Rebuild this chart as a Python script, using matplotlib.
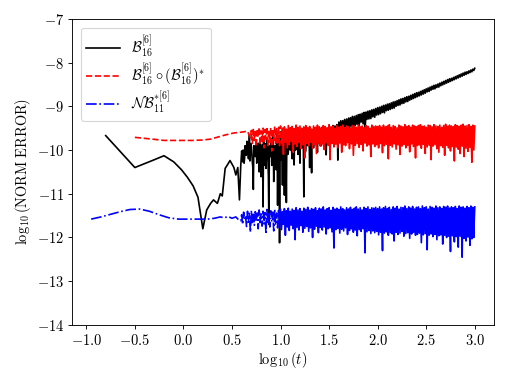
import numpy as np
import matplotlib
matplotlib.use("Agg")
import matplotlib.pyplot as plt

plt.rcParams["mathtext.fontset"] = "cm"
plt.rcParams["font.family"] = "serif"
plt.rcParams["font.serif"] = ["cmr10", "DejaVu Serif"]
plt.rcParams["axes.formatter.use_mathtext"] = True
plt.rcParams["font.size"] = 13

# ---- B_16^[6] (black) ----
black_early_x = [-0.80, -0.50, -0.32, -0.20, -0.10, -0.02, 0.04, 0.10, 0.15, 0.20,
                 0.24, 0.28, 0.31, 0.35, 0.38, 0.40, 0.43, 0.45, 0.48, 0.50,
                 0.52, 0.54, 0.56, 0.577, 0.59]
black_early_y = [-9.67, -10.40, -10.24, -10.13, -10.27, -10.45, -10.62, -10.82, -11.08, -11.80,
                 -11.37, -11.22, -11.14, -11.22, -11.00, -11.05, -10.42, -10.35, -10.24, -10.32,
                 -10.40, -10.57, -10.40, -11.14, -10.38]
# noisy part, log10(t) = 0.60 ... 1.58
black_mid = [-10.02, -10.27, -10.05, -10.18, -9.95, -10.10, -9.85, -10.20, -9.66, -10.07,
             -9.92, -10.28, -10.90, -9.95, -10.15, -9.80, -10.10, -9.85, -10.50, -9.95,
             -10.61, -9.88, -11.30, -10.07, -9.85, -10.42, -9.75, -10.20, -11.70, -10.00,
             -9.73, -10.35, -9.62, -10.72, -9.95, -10.23, -9.65, -11.26, -9.85, -12.12,
             -9.58, -10.23, -10.80, -9.69, -11.03, -9.80, -11.20, -9.92, -10.05, -9.70,
             -10.00, -9.54, -10.20, -9.62, -10.34, -9.65, -9.98, -9.55, -10.10, -9.60,
             -10.30, -9.58, -9.95, -9.62, -11.07, -9.60, -10.00, -9.55, -9.90, -9.60,
             -10.40, -9.57, -10.52, -9.62, -9.95, -9.52, -9.88, -9.58, -10.05, -9.50,
             -9.85, -9.55, -9.90, -9.48, -9.80, -9.52, -9.78, -10.11, -9.50, -9.75,
             -9.45, -9.72, -9.48, -9.70, -9.44, -9.68, -9.45, -9.66, -9.42]
# extra samples in between, log10(t) = 0.605 ... 1.585
black_mid2 = [-10.15, -10.00, -10.30, -9.90, -10.12, -9.80, -10.05, -9.95, -10.25, -9.85,
              -10.10, -10.40, -9.90, -10.05, -9.88, -10.30, -9.92, -10.15, -9.82, -10.20,
              -9.95, -10.10, -9.80, -10.35, -9.92, -10.05, -9.78, -10.60, -9.90, -10.15,
              -9.85, -10.05, -9.75, -10.20, -9.90, -10.45, -9.80, -10.00, -9.72, -10.30,
              -9.85, -10.00, -9.75, -10.15, -9.82, -9.95, -9.70, -10.10, -9.78, -9.92,
              -9.68, -10.05, -9.75, -9.88, -9.70, -10.00, -9.65, -9.90, -9.72, -9.85,
              -9.66, -9.95, -9.70, -9.85, -9.64, -10.05, -9.72, -9.86, -9.66, -9.80,
              -9.70, -9.92, -9.64, -9.82, -9.68, -9.78, -9.62, -9.85, -9.66, -9.76,
              -9.60, -9.80, -9.64, -9.74, -9.60, -9.72, -9.62, -9.70, -9.58, -9.68,
              -9.60, -9.66, -9.56, -9.64, -9.58, -9.62, -9.55, -9.60, -9.52]
# narrow growing band, upper samples at 1.60 ... 3.00, lower samples at 1.59 ... 2.99
black_tail_hi = [-9.36, -9.33, -9.33, -9.30, -9.29, -9.27, -9.26, -9.23, -9.23, -9.21,
                 -9.19, -9.18, -9.16, -9.14, -9.13, -9.11, -9.10, -9.08, -9.07, -9.05,
                 -9.03, -9.02, -9.00, -8.98, -8.97, -8.95, -8.94, -8.92, -8.90, -8.89,
                 -8.87, -8.85, -8.83, -8.82, -8.80, -8.78, -8.77, -8.75, -8.73, -8.71,
                 -8.69, -8.68, -8.66, -8.64, -8.62, -8.60, -8.58, -8.56, -8.54, -8.52,
                 -8.51, -8.49, -8.47, -8.45, -8.43, -8.41, -8.39, -8.37, -8.36, -8.34,
                 -8.32, -8.30, -8.28, -8.26, -8.24, -8.22, -8.21, -8.19, -8.17, -8.15,
                 -8.13]
black_tail_lo = [-10.23, -9.58, -9.66, -9.53, -9.55, -9.50, -9.58, -9.45, -9.46, -9.44,
                 -9.41, -9.45, -9.36, -9.40, -9.58, -9.30, -9.29, -9.28, -9.24, -9.25,
                 -9.20, -9.19, -9.17, -9.14, -9.15, -9.10, -9.09, -9.07, -9.05, -9.04,
                 -9.00, -8.98, -8.97, -8.94, -8.93, -8.90, -8.89, -8.86, -8.84, -8.82,
                 -8.80, -8.78, -8.76, -8.74, -8.72, -8.70, -8.67, -8.66, -8.63, -8.61,
                 -8.60, -8.57, -8.56, -8.53, -8.51, -8.49, -8.47, -8.45, -8.43, -8.41,
                 -8.39, -8.37, -8.35, -8.33, -8.31, -8.29, -8.27, -8.25, -8.23, -8.21,
                 -8.18]

# ---- B_16^[6] o (B_16^[6])^* (red) ----
red_early_x = [-0.50, -0.32, -0.20, -0.10, 0.00, 0.10, 0.20, 0.28, 0.36, 0.44,
               0.52, 0.60, 0.66]
red_early_y = [-9.71, -9.75, -9.78, -9.78, -9.78, -9.78, -9.77, -9.75, -9.70, -9.65,
               -9.61, -9.59, -9.57]
red_hi = [-9.55, -9.50, -9.58, -9.52, -9.48, -9.56, -9.50, -9.53, -9.47, -9.55,
          -9.49, -9.52, -9.46, -9.51, -9.48,
          -9.45, -9.50, -9.47, -9.52, -9.44, -9.49, -9.46, -9.51, -9.43, -9.48,
          -9.45, -9.50, -9.47, -9.44, -9.49, -9.46, -9.52, -9.45, -9.48, -9.43,
          -9.47, -9.50, -9.44, -9.46, -9.49, -9.42, -9.47, -9.45, -9.50, -9.44,
          -9.48, -9.46, -9.43, -9.49, -9.45, -9.47, -9.51, -9.44, -9.46, -9.48,
          -9.43, -9.47, -9.45, -9.49, -9.44, -9.46, -9.50, -9.43, -9.47, -9.45,
          -9.46, -9.44, -9.48, -9.43, -9.47, -9.45, -9.42, -9.48, -9.44, -9.46,
          -9.49, -9.43, -9.45, -9.47, -9.42, -9.46, -9.44, -9.48, -9.43, -9.45,
          -9.47, -9.44, -9.42, -9.46, -9.45, -9.48, -9.43, -9.44, -9.47, -9.42,
          -9.45, -9.46, -9.43, -9.48, -9.44, -9.41, -9.46, -9.43, -9.45, -9.47,
          -9.42, -9.44, -9.46, -9.43, -9.41, -9.45, -9.44, -9.42, -9.46, -9.43,
          -9.45]
red_mid = [-9.62, -9.68, -9.60, -9.72, -9.58, -9.66, -9.63, -9.70, -9.61, -9.67,
           -9.59, -9.74, -9.64, -9.69, -9.62,
           -9.66, -9.60, -9.71, -9.63, -9.68, -9.58, -9.65, -9.73, -9.61, -9.67,
           -9.62, -9.70, -9.59, -9.66, -9.64, -9.72, -9.60, -9.68, -9.63, -9.75,
           -9.61, -9.66, -9.58, -9.69, -9.64, -9.62, -9.71, -9.60, -9.67, -9.65,
           -9.73, -9.59, -9.66, -9.62, -9.70, -9.61, -9.68, -9.64, -9.76, -9.60,
           -9.65, -9.63, -9.71, -9.59, -9.67, -9.62, -9.69, -9.64, -9.72, -9.61,
           -9.66, -9.63, -9.70, -9.60, -9.68, -9.65, -9.74, -9.61, -9.67, -9.63,
           -9.71, -9.59, -9.66, -9.64, -9.72, -9.62, -9.69, -9.60, -9.67, -9.65,
           -9.75, -9.61, -9.68, -9.63, -9.70, -9.62, -9.66, -9.64, -9.73, -9.60,
           -9.68, -9.65, -9.71, -9.62, -9.67, -9.63, -9.76, -9.61, -9.69, -9.64,
           -9.72, -9.63, -9.67, -9.65, -9.74, -9.62, -9.70, -9.64, -9.68, -9.66,
           -9.71]
red_lo = [-9.72, -9.85, -9.78, -9.92, -9.70, -9.88, -9.80, -9.95, -9.75, -9.90,
          -9.82, -10.02, -9.78, -9.88, -9.84,
          -9.90, -9.85, -10.10, -9.82, -9.95, -9.88, -9.80, -10.05, -9.86, -9.92,
          -9.83, -9.97, -9.88, -10.18, -9.85, -9.90, -9.82, -9.96, -9.87, -10.08,
          -9.84, -9.91, -9.86, -9.99, -9.83, -9.89, -10.22, -9.85, -9.93, -9.87,
          -9.95, -9.84, -10.05, -9.88, -9.90, -9.83, -9.97, -9.86, -10.12, -9.89,
          -9.85, -9.94, -9.87, -10.02, -9.84, -9.91, -9.88, -10.15, -9.86, -9.92,
          -9.88, -9.95, -9.85, -10.06, -9.90, -9.87, -10.20, -9.89, -9.93, -9.86,
          -9.98, -9.88, -10.10, -9.91, -9.87, -9.95, -9.89, -10.04, -9.86, -9.92,
          -10.18, -9.90, -9.88, -9.96, -9.87, -10.08, -9.93, -9.89, -10.22, -9.91,
          -9.88, -9.97, -10.05, -9.90, -9.94, -10.12, -9.89, -9.95, -10.02, -9.92,
          -10.25, -9.93, -9.98, -10.08, -9.91, -10.15, -9.96, -10.03, -9.94, -10.28,
          -10.00]

# ---- NB_11^{*[6]} (blue) ----
blue_early_x = [-0.95, -0.85, -0.75, -0.65, -0.55, -0.45, -0.35, -0.25, -0.15, -0.05,
                0.05, 0.15, 0.25, 0.32, 0.38, 0.42, 0.46, 0.50, 0.54, 0.57]
blue_early_y = [-11.58, -11.53, -11.47, -11.41, -11.36, -11.35, -11.40, -11.48, -11.55, -11.58,
                -11.58, -11.58, -11.58, -11.56, -11.53, -11.55, -11.52, -11.56, -11.53, -11.60]
blue_hi = [-11.48, -11.42, -11.50, -11.40, -11.45, -11.38, -11.47, -11.41, -11.44, -11.37,
           -11.46, -11.40, -11.43, -11.36, -11.45, -11.39, -11.42, -11.35, -11.44, -11.38,
           -11.36, -11.41, -11.34, -11.39, -11.33, -11.40, -11.35, -11.38, -11.32, -11.37,
           -11.34, -11.40, -11.33, -11.36, -11.31, -11.38, -11.34, -11.36, -11.32, -11.39,
           -11.33, -11.35, -11.30, -11.37, -11.34, -11.32, -11.38, -11.31, -11.35, -11.33,
           -11.36, -11.30, -11.34, -11.37, -11.32, -11.35, -11.31, -11.36, -11.33, -11.30,
           -11.35, -11.32, -11.37, -11.31, -11.34, -11.30, -11.36, -11.32, -11.33, -11.31,
           -11.34, -11.30, -11.35, -11.32, -11.29, -11.34, -11.31, -11.36, -11.30, -11.33,
           -11.29, -11.35, -11.31, -11.32, -11.28, -11.34, -11.30, -11.33, -11.29, -11.35,
           -11.31, -11.30, -11.34, -11.28, -11.32, -11.30, -11.35, -11.29, -11.31, -11.33,
           -11.28, -11.32, -11.30, -11.34, -11.29, -11.31, -11.28, -11.33, -11.30, -11.32,
           -11.29, -11.34, -11.28, -11.31, -11.30, -11.33, -11.29, -11.32, -11.28, -11.31,
           -11.30]
blue_mid = [-11.55, -11.60, -11.52, -11.58, -11.54, -11.62, -11.56, -11.59, -11.53, -11.61,
            -11.55, -11.58, -11.51, -11.63, -11.57, -11.54, -11.60, -11.56, -11.52, -11.59,
            -11.53, -11.60, -11.55, -11.62, -11.50, -11.57, -11.54, -11.64, -11.52, -11.58,
            -11.55, -11.61, -11.51, -11.59, -11.56, -11.63, -11.53, -11.57, -11.50, -11.60,
            -11.54, -11.62, -11.52, -11.58, -11.55, -11.65, -11.51, -11.59, -11.56, -11.61,
            -11.53, -11.57, -11.50, -11.63, -11.55, -11.58, -11.52, -11.60, -11.54, -11.66,
            -11.51, -11.59, -11.56, -11.62, -11.53, -11.58, -11.55, -11.64, -11.52, -11.60,
            -11.54, -11.61, -11.52, -11.59, -11.56, -11.65, -11.53, -11.60, -11.55, -11.62,
            -11.51, -11.58, -11.57, -11.64, -11.53, -11.60, -11.55, -11.67, -11.52, -11.59,
            -11.56, -11.62, -11.54, -11.66, -11.53, -11.60, -11.57, -11.63, -11.52, -11.61,
            -11.55, -11.68, -11.54, -11.59, -11.56, -11.64, -11.53, -11.62, -11.58, -11.66,
            -11.55, -11.60, -11.54, -11.65, -11.57, -11.63, -11.56, -11.69, -11.55, -11.61,
            -11.58]
blue_lo = [-11.62, -11.70, -11.58, -11.75, -11.65, -11.88, -11.68, -11.72, -11.60, -11.80,
           -11.66, -11.74, -11.69, -11.92, -11.70, -11.76, -11.64, -11.85, -11.71, -11.78,
           -11.74, -11.82, -11.70, -11.95, -11.76, -11.84, -11.72, -11.80, -12.05, -11.77,
           -11.83, -11.73, -11.88, -11.79, -11.75, -11.86, -11.78, -12.00, -11.81, -11.74,
           -11.89, -11.77, -11.83, -11.76, -11.92, -11.80, -11.78, -11.87, -12.24, -11.82,
           -11.79, -11.90, -11.81, -11.85, -11.78, -11.93, -11.84, -11.80, -11.88, -11.83,
           -11.96, -11.82, -11.86, -11.80, -12.35, -11.87, -11.84, -11.91, -11.85, -11.89,
           -11.86, -11.94, -11.88, -12.30, -11.90, -11.87, -11.95, -11.89, -11.92, -12.08,
           -11.88, -11.93, -11.90, -11.86, -11.97, -11.91, -11.89, -12.02, -11.92, -11.88,
           -11.95, -11.93, -11.90, -12.12, -11.94, -11.91, -12.28, -11.95, -11.92, -11.98,
           -11.93, -12.05, -11.96, -11.94, -12.15, -11.95, -12.00, -11.97, -12.32, -11.96,
           -12.10, -11.98, -12.22, -11.97, -12.45, -12.02, -12.08, -11.99, -12.18, -12.03,
           -12.00]


def merge(parts):
    # join (x, y) pieces and order them along log10(t)
    x = np.concatenate([np.asarray(p[0], float) for p in parts])
    y = np.concatenate([np.asarray(p[1], float) for p in parts])
    order = np.argsort(x, kind="stable")
    return x[order], y[order]


bx, by = merge([
    (black_early_x, black_early_y),
    (np.linspace(0.60, 1.58, len(black_mid)), black_mid),
    (np.linspace(0.605, 1.585, len(black_mid2)), black_mid2),
    (np.linspace(1.60, 3.00, len(black_tail_hi)), black_tail_hi),
    (np.linspace(1.59, 2.99, len(black_tail_lo)), black_tail_lo),
])
rx, ry = merge([
    (red_early_x, red_early_y),
    (np.linspace(0.70, 3.00, len(red_hi)), red_hi),
    (np.linspace(0.695, 2.995, len(red_mid)), red_mid),
    (np.linspace(0.69, 2.99, len(red_lo)), red_lo),
])
ux, uy = merge([
    (blue_early_x, blue_early_y),
    (np.linspace(0.60, 3.00, len(blue_hi)), blue_hi),
    (np.linspace(0.595, 2.995, len(blue_mid)), blue_mid),
    (np.linspace(0.59, 2.99, len(blue_lo)), blue_lo),
])

fig = plt.figure(figsize=(514 / 80, 385 / 80), dpi=80)
ax = fig.add_axes([0.140, 0.156, 0.821, 0.795])

ax.plot(bx, by, color="black", lw=1.5, label=r"$\mathcal{B}_{16}^{[6]}$")


def dashed_then_dense(x, y, color, ls, label, split=1.0):
    # thousands of overlapping samples make the late band look solid;
    # draw the dense stretch with an unbroken stroke
    k = np.searchsorted(x, split)
    ax.plot(x[:k + 1], y[:k + 1], color=color, lw=1.5, ls=ls, label=label)
    ax.plot(x[k:], y[k:], color=color, lw=1.5, ls="-")


dashed_then_dense(rx, ry, "red", "--",
                  r"$\mathcal{B}_{16}^{[6]}\circ(\mathcal{B}_{16}^{[6]})^{*}$")
dashed_then_dense(ux, uy, "blue", "-.",
                  r"$\mathcal{N}\mathcal{B}_{11}^{*[6]}$")

ax.set_ylim(-14, -7)
ax.set_xticks([-1.0, -0.5, 0.0, 0.5, 1.0, 1.5, 2.0, 2.5, 3.0])
ax.set_yticks(range(-14, -6))
ax.set_xlabel(r"$\log_{10}(t)$", labelpad=2)
ax.set_ylabel(r"$\log_{10}(\mathrm{NORM\ ERROR})$", labelpad=3)
ax.legend(loc="upper left", handlelength=2.3, borderaxespad=0.6, labelspacing=0.2)

fig.savefig("out.png", dpi=80)
